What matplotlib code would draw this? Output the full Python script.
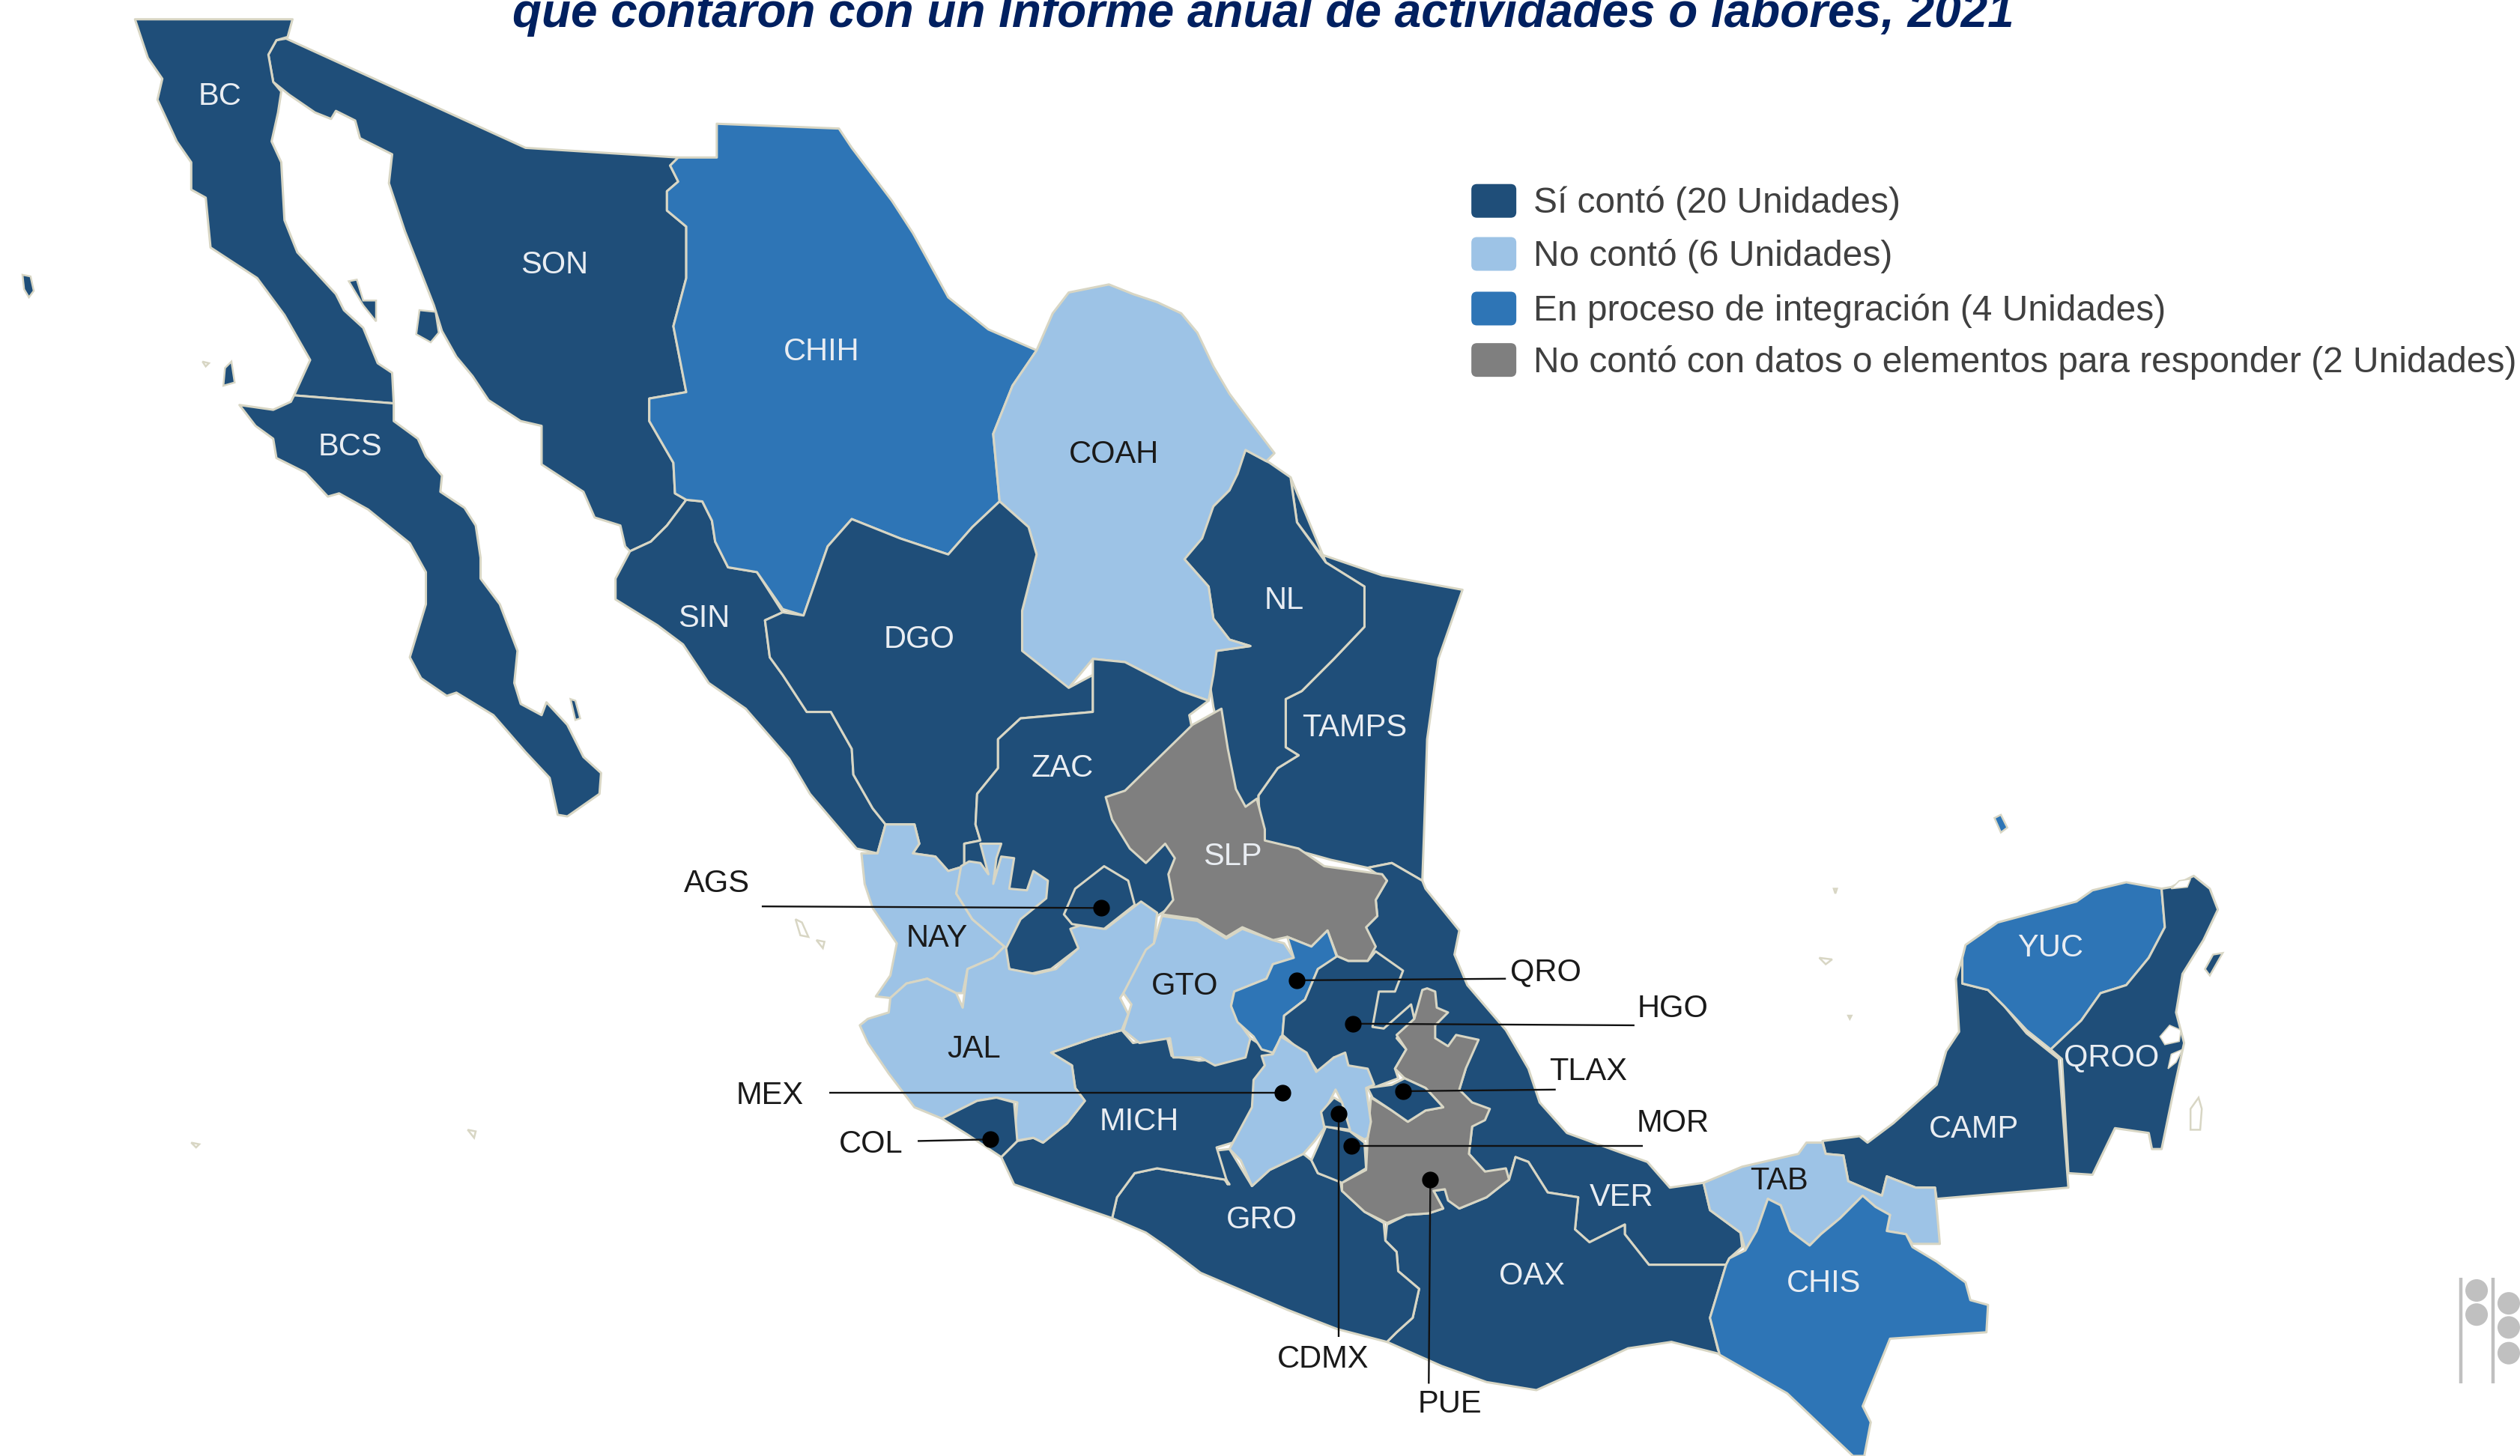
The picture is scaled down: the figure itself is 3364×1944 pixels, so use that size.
import matplotlib
matplotlib.use("Agg")
import matplotlib.pyplot as plt
from matplotlib.patches import Polygon, FancyBboxPatch, Circle

plt.rcParams["font.family"] = ["Liberation Sans", "DejaVu Sans"]

SI = "#1F4E79"
NO = "#9DC3E6"
PROCESO = "#2E75B6"
SIN_DATOS = "#7F7F7F"
BORDER = "#D8D6C4"

TITLE = "que contaron con un Informe anual de actividades o labores, 2021"
LEGEND_LABELS = ["Sí contó (20 Unidades)", "No contó (6 Unidades)",
                 "En proceso de integración (4 Unidades)",
                 "No contó con datos o elementos para responder (2 Unidades)"]
LEGEND_COLORS = [SI, NO, PROCESO, SIN_DATOS]
LEGEND_Y = [125, 158, 192, 224]

# outlines, in pixels of the 1568x906 view
BC = [(84,12),(182,12),(179,23),(172,25),(167,34),(170,51),(175,57),(173,70),(169,88),(175,101),(177,137),(185,157),(209,183),(214,193),(226,204),(235,226),(244,232),(245,251),(183,246),(193,224),(177,196),(160,173),(131,154),(128,123),(119,118),(119,101),(110,88),(98,62),(101,49),(92,36)]
BCS = [(149,252),(170,255),(181,250),(183,246),(245,251),(245,262),(260,273),(265,284),(275,296),(274,306),(289,316),(296,327),(299,347),(299,360),(311,376),(322,405),(320,425),(324,438),(337,445),(340,437),(353,451),(363,471),(374,481),(373,494),(353,508),(347,507),(342,484),(327,468),(307,445),(284,431),(278,433),(262,422),(255,409),(265,376),(265,356),(255,338),(229,317),(211,307),(204,309),(190,294),(172,285),(170,273),(159,265)]
SON = [(178,24),(327,92),(422,98),(417,103),(422,113),(415,119),(415,131),(427,141),(427,173),(419,203),(427,244),(404,248),(404,262),(419,288),(420,307),(427,311),(415,327),(405,337),(392,343),(389,340),(386,327),(370,322),(363,306),(337,289),(337,265),(324,262),(304,249),(294,234),(284,222),(275,206),(270,190),(252,144),(242,114),(244,96),(224,86),(221,75),(209,69),(206,74),(196,70),(180,59),(170,51),(167,34),(172,25)]
CHIH = [(446,77),(522,80),(530,92),(555,125),(568,145),(590,185),(615,205),(645,218),(630,240),(618,270),(622,312),(605,328),(590,345),(560,335),(530,323),(515,340),(500,383),(487,379),(471,356),(453,353),(445,337),(443,324),(437,312),(427,311),(420,307),(419,288),(404,262),(404,248),(427,244),(419,203),(427,173),(427,141),(415,131),(415,119),(422,113),(417,103),(422,98),(446,98)]
COAH = [(645,218),(655,195),(665,182),(690,177),(705,183),(720,188),(735,195),(745,207),(755,228),(765,245),(780,265),(793,282),(788,287),(775,280),(770,295),(765,305),(755,315),(748,335),(737,348),(752,365),(755,385),(765,398),(778,402),(757,405),(755,420),(752,436),(735,430),(700,412),(680,410),(665,428),(650,420),(636,405),(636,380),(645,345),(640,328),(622,312),(618,270),(630,240)]
NL = [(775,280),(790,288),(803,297),(807,325),(825,350),(849,365),(849,390),(830,410),(810,430),(800,435),(800,465),(808,470),(795,478),(783,495),(782,520),(770,520),(765,480),(755,440),(752,420),(757,405),(778,402),(765,398),(755,385),(752,365),(737,348),(755,315),(765,305)]
TAMPS = [(803,297),(807,325),(822,345),(860,358),(910,367),(895,410),(888,460),(886,520),(885,548),(866,537),(851,540),(828,535),(810,530),(785,530),(783,495),(795,478),(808,470),(800,465),(800,435),(810,430),(830,410),(849,390),(849,365),(825,350)]
SIN = [(427,311),(415,327),(405,337),(392,343),(383,360),(383,373),(409,389),(425,401),(441,425),(464,441),(491,472),(504,494),(533,528),(546,531),(551,513),(543,503),(531,482),(530,466),(517,443),(502,443),(487,420),(479,409),(476,386),(487,381),(471,356),(453,353),(445,337),(443,324),(437,312)]
DGO = [(487,381),(500,383),(515,340),(530,323),(560,335),(590,345),(605,328),(622,312),(640,328),(645,345),(636,380),(636,405),(665,428),(680,420),(680,443),(635,447),(621,460),(621,478),(608,494),(607,513),(610,523),(600,525),(600,539),(590,542),(582,533),(568,531),(572,525),(569,513),(551,513),(543,503),(531,482),(530,466),(517,443),(502,443),(487,420),(479,409),(476,386)]
ZAC = [(680,410),(700,412),(735,430),(752,436),(740,445),(745,470),(745,520),(735,560),(720,570),(680,573),(671,590),(654,603),(641,606),(628,603),(625,589),(600,539),(600,525),(610,523),(607,513),(608,494),(621,478),(621,460),(635,447),(680,443)]
NAY = [(536,531),(546,531),(551,513),(569,513),(572,525),(568,531),(582,533),(590,542),(600,539),(595,556),(605,572),(625,589),(618,596),(602,603),(599,618),(595,618),(577,609),(564,612),(554,621),(545,620),(554,607),(558,587),(543,565),(538,550)]
JAL = [(598,539),(603,536),(610,537),(615,544),(610,525),(623,525),(620,534),(618,550),(623,533),(631,534),(628,553),(639,554),(643,542),(652,548),(651,559),(635,572),(626,590),(628,603),(644,606),(657,603),(671,590),(666,578),(680,573),(688,578),(706,564),(710,561),(720,568),(718,587),(703,612),(697,621),(702,631),(698,641),(680,646),(654,655),(667,663),(669,677),(675,685),(664,699),(649,711),(643,708),(631,710),(633,686),(620,683),(608,685),(586,696),(569,689),(553,668),(540,649),(535,638),(540,634),(553,630),(554,621),(564,612),(577,609),(595,618),(599,627),(602,603),(618,596),(625,589),(605,572),(595,556)]
AGS = [(687,539),(702,548),(706,563),(687,578),(667,575),(662,569),(669,553)]
COL = [(586,696),(608,685),(620,683),(631,686),(633,710),(623,720),(602,706)]
SLP = [(760,441),(764,466),(769,491),(775,502),(782,497),(787,516),(787,523),(808,528),(824,539),(860,544),(863,548),(856,560),(857,570),(850,577),(856,589),(851,598),(839,598),(832,595),(826,579),(816,589),(801,583),(792,585),(773,577),(763,583),(745,572),(723,569),(730,560),(727,544),(731,534),(725,525),(713,537),(703,528),(692,510),(688,496),(700,492),(742,451)]
GTO = [(723,570),(745,573),(763,584),(773,578),(792,585),(799,587),(805,596),(792,600),(788,609),(768,617),(766,626),(770,635),(778,646),(775,658),(756,663),(747,658),(730,658),(728,646),(709,649),(699,641),(704,625),(699,618),(713,591),(718,587)]
QRO = [(801,583),(816,589),(826,579),(832,596),(820,603),(812,622),(799,632),(798,644),(792,655),(785,653),(780,645),(770,636),(766,626),(768,617),(788,609),(792,600),(805,596)]
HGO = [(832,595),(839,598),(851,598),(856,592),(873,604),(868,617),(858,617),(854,639),(861,640),(878,625),(880,634),(869,646),(875,653),(868,665),(870,671),(854,677),(839,663),(830,658),(820,667),(814,658),(798,644),(799,632),(812,622),(820,603)]
MICH = [(654,655),(680,646),(698,641),(705,649),(726,645),(729,657),(746,660),(773,658),(778,646),(792,655),(787,665),(780,676),(782,686),(767,711),(757,714),(764,737),(762,734),(720,727),(706,730),(695,745),(692,758),(631,737),(623,720),(633,710),(643,708),(649,711),(664,699),(675,685),(669,677),(667,663)]
GRO = [(692,758),(695,745),(706,730),(720,727),(762,734),(765,737),(759,728),(756,716),(765,715),(779,738),(790,728),(811,718),(816,722),(820,730),(834,735),(835,741),(849,754),(861,761),(862,772),(869,779),(870,791),(883,802),(879,820),(869,829),(863,835),(832,827),(801,815),(747,792),(726,776),(713,767)]
MEX = [(797,645),(813,655),(819,667),(830,658),(837,655),(839,663),(851,665),(855,675),(850,677),(853,698),(851,708),(849,709),(840,704),(835,686),(831,678),(823,694),(824,702),(818,710),(811,718),(790,728),(779,738),(772,722),(765,715),(779,689),(780,672),(787,663),(785,657),(792,656)]
MOR = [(825,701),(840,704),(849,711),(850,727),(835,736),(820,730),(816,722),(820,713)]
CDMX = [(830,683),(835,686),(840,703),(824,701),(822,692)]
TLAX = [(851,677),(866,675),(874,671),(887,677),(898,689),(887,691),(876,698),(866,691),(854,683)]
PUE = [(888,615),(893,617),(894,627),(901,630),(893,638),(893,646),(901,651),(906,644),(920,647),(912,665),(908,678),(916,686),(927,690),(924,697),(916,701),(914,718),(924,729),(937,727),(939,734),(930,741),(925,745),(908,752),(901,747),(899,740),(892,741),(898,752),(889,755),(875,756),(863,761),(849,754),(835,741),(835,736),(850,728),(851,708),(853,683),(866,691),(876,698),(887,691),(898,689),(887,677),(874,671),(868,665),(875,653),(869,644),(880,634),(885,616)]
VER = [(851,540),(866,537),(885,548),(887,553),(908,579),(905,594),(913,613),(937,641),(951,665),(958,686),(975,705),(1008,717),(1025,723),(1039,739),(1060,736),(1064,753),(1083,767),(1084,776),(1076,783),(1074,787),(1026,787),(1011,768),(1011,762),(989,773),(980,765),(982,745),(963,742),(951,723),(943,720),(939,734),(924,729),(914,718),(916,701),(908,678),(912,665),(875,660),(850,640),(850,612),(850,577),(857,570),(856,560),(863,548)]
OAX = [(863,762),(875,756),(889,755),(898,752),(892,741),(899,740),(908,752),(925,745),(939,734),(943,720),(951,723),(963,742),(982,745),(980,765),(989,773),(1011,762),(1011,768),(1026,787),(1074,787),(1064,820),(1069,840),(1072,843),(1040,835),(1013,839),(985,852),(956,865),(925,860),(897,850),(863,835),(869,829),(879,820),(883,802),(870,791),(869,779),(862,772)]
TAB = [(1060,736),(1084,726),(1119,718),(1124,711),(1134,711),(1136,718),(1147,719),(1150,735),(1171,744),(1174,732),(1192,739),(1204,739),(1207,774),(1190,774),(1186,768),(1174,766),(1176,756),(1167,751),(1159,744),(1145,758),(1133,768),(1126,775),(1114,766),(1108,750),(1100,746),(1093,766),(1086,778),(1083,767),(1064,753)]
CHIS = [(1076,783),(1086,778),(1093,766),(1100,746),(1108,750),(1114,766),(1126,775),(1133,768),(1145,758),(1159,744),(1167,751),(1176,756),(1174,766),(1186,768),(1190,776),(1205,785),(1223,798),(1226,809),(1237,812),(1236,829),(1176,833),(1159,875),(1164,885),(1160,906),(1153,906),(1112,867),(1070,843),(1064,820),(1074,787)]
CAMP = [(1134,710),(1157,707),(1162,711),(1178,699),(1205,675),(1211,654),(1219,642),(1217,609),(1221,596),(1221,612),(1237,616),(1247,626),(1261,643),(1281,659),(1287,739),(1205,746),(1204,739),(1192,739),(1174,732),(1171,744),(1150,735),(1147,719),(1136,718)]
YUC = [(1221,596),(1223,588),(1243,574),(1292,561),(1302,554),(1323,549),(1345,553),(1347,577),(1337,596),(1323,613),(1307,618),(1295,635),(1276,653),(1261,641),(1247,626),(1237,616),(1221,612)]
QROO = [(1345,553),(1351,552),(1365,545),(1375,553),(1380,566),(1371,585),(1358,606),(1354,630),(1359,649),(1352,681),(1345,715),(1339,715),(1337,705),(1316,702),(1302,731),(1287,730),(1283,659),(1276,653),(1295,635),(1307,618),(1323,613),(1337,596),(1347,577)]

STATE_COLORS = [(SON, SI), (BC, SI), (BCS, SI), (SIN, SI), (CHIH, PROCESO), (TAMPS, SI), (NL, SI),
                (COAH, NO), (DGO, SI), (ZAC, SI), (VER, SI), (OAX, SI), (GRO, SI), (MICH, SI),
                (NAY, NO), (JAL, NO), (AGS, SI), (COL, SI), (SLP, SIN_DATOS), (GTO, NO), (QRO, PROCESO),
                (HGO, SI), (PUE, SIN_DATOS), (MEX, NO), (MOR, SI), (TLAX, SI), (CDMX, SI),
                (CAMP, SI), (TAB, NO), (CHIS, PROCESO), (YUC, PROCESO), (QROO, SI)]

ISLANDS_DARK = [[(14,171),(19,172),(21,181),(18,185),(15,180)],
                [(140,229),(144,225),(146,238),(139,240)],
                [(217,175),(222,174),(226,187),(234,187),(234,200),(226,190)],
                [(261,193),(271,194),(273,207),(268,213),(259,208)],
                [(355,435),(358,436),(361,447),(358,448)],
                [(1377,594),(1383,593),(1375,607),(1372,603)]]
ISLANDS_BLUE = [[(1241,509),(1245,507),(1249,515),(1245,518)]]
ISLANDS_BORDER = [[(495,572),(499,574),(503,583),(498,582)], [(508,585),(513,586),(512,590)], [(119,711),(124,712),(122,714)],
                  [(291,703),(296,704),(295,708)], [(1132,596),(1140,597),(1136,600)], [(1141,553),(1143,553),(1142,556)],
                  [(126,225),(130,226),(128,228)], [(1150,632),(1152,632),(1151,634)],
                  [(1363,690),(1368,683),(1370,690),(1369,703),(1363,703)]]
LAGOONS = [[(1344,645),(1350,638),(1357,641),(1356,648),(1347,650)], [(1349,665),(1351,656),(1358,653),(1354,661)],
           [(1351,553),(1356,548),(1363,547),(1361,552)]]

STATE_LABELS = ["BC", "SON", "CHIH", "BCS", "COAH", "SIN", "DGO", "NL", "TAMPS", "ZAC", "SLP", "NAY", "GTO", "JAL",
                "MICH", "GRO", "VER", "OAX", "TAB", "CHIS", "CAMP", "QROO", "YUC"]
LABEL_X = [137, 345, 511, 218, 693, 438, 572, 799, 843, 661, 767, 583, 737, 606, 709, 785, 1009, 953, 1107, 1135, 1228, 1314, 1276]
LABEL_Y = [60, 165, 219, 278, 283, 385, 398, 374, 453, 478, 533, 584, 614, 653, 698, 759, 745, 794, 735, 799, 703, 658, 590]
DARK_TEXT = ["COAH", "NAY", "GTO", "JAL", "TAB"]

CALLOUTS = ["AGS", "MEX", "COL", "CDMX", "MOR", "PUE", "QRO", "HGO", "TLAX"]
CALLOUT_X = [446, 479, 542, 823, 1041, 902, 962, 1041, 988]
CALLOUT_Y = [550, 682, 712, 846, 699, 874, 605, 628, 667]
DOT_X = [685, 798, 616, 833, 841, 890, 807, 842, 873]
DOT_Y = [565, 680, 709, 693, 713, 734, 610, 637, 679]
LINE_END_X = [474, 516, 571, 833, 1022, 889, 937, 1017, 968]
LINE_END_Y = [564, 680, 710, 832, 713, 861, 609, 638, 678]

LOGO_BAR_X = [1531, 1551]
LOGO_DOT_X = [1541, 1541, 1561, 1561, 1561]
LOGO_DOT_Y = [803, 818, 811, 826, 842]

fig = plt.figure(figsize=(33.64, 19.44), dpi=100)
ax = fig.add_axes([0, 0, 1, 1])
ax.set_xlim(0, 1568)
ax.set_ylim(906, 0)
ax.axis("off")

for pts, col in STATE_COLORS:
    ax.add_patch(Polygon(pts, closed=True, fc=col, ec=BORDER, lw=2.2, joinstyle="round"))
for pts in ISLANDS_DARK:
    ax.add_patch(Polygon(pts, closed=True, fc=SI, ec=BORDER, lw=1.8))
for pts in ISLANDS_BLUE:
    ax.add_patch(Polygon(pts, closed=True, fc=PROCESO, ec=BORDER, lw=1.8))
for pts in ISLANDS_BORDER:
    ax.add_patch(Polygon(pts, closed=True, fc="white", ec=BORDER, lw=1.8))
for pts in LAGOONS:
    ax.add_patch(Polygon(pts, closed=True, fc="white", ec=BORDER, lw=1.2))

for name, x, y in zip(STATE_LABELS, LABEL_X, LABEL_Y):
    col = "#1A1A1A" if name in DARK_TEXT else "#E9EDF2"
    ax.text(x, y, name, color=col, fontsize=30, ha="center", va="center")

for name, x, y, dx, dy, ex, ey in zip(CALLOUTS, CALLOUT_X, CALLOUT_Y, DOT_X, DOT_Y, LINE_END_X, LINE_END_Y):
    ax.plot([dx, ex], [dy, ey], color="#111111", lw=1.7, solid_capstyle="butt")
    ax.plot(dx, dy, "o", color="black", ms=15)
    ax.text(x, y, name, color="#1A1A1A", fontsize=30, ha="center", va="center")

for label, col, y in zip(LEGEND_LABELS, LEGEND_COLORS, LEGEND_Y):
    ax.add_patch(FancyBboxPatch((916, y - 10), 27, 20, boxstyle="round,pad=0,rounding_size=3",
                                fc=col, ec=col, lw=1.5))
    ax.text(954, y + 1.5, label, color="#404040", fontsize=34.5, ha="left", va="center")

ax.text(786, 17, TITLE, color="#002060", fontsize=46, fontweight="bold", fontstyle="italic",
        ha="center", va="baseline")

for x in LOGO_BAR_X:
    ax.plot([x, x], [795, 861], color="#C0C0C0", lw=3.2, solid_capstyle="butt")
for x, y in zip(LOGO_DOT_X, LOGO_DOT_Y):
    ax.add_patch(Circle((x, y), 7, fc="#C0C0C0", ec="none"))

fig.savefig("out.png", dpi=100)
